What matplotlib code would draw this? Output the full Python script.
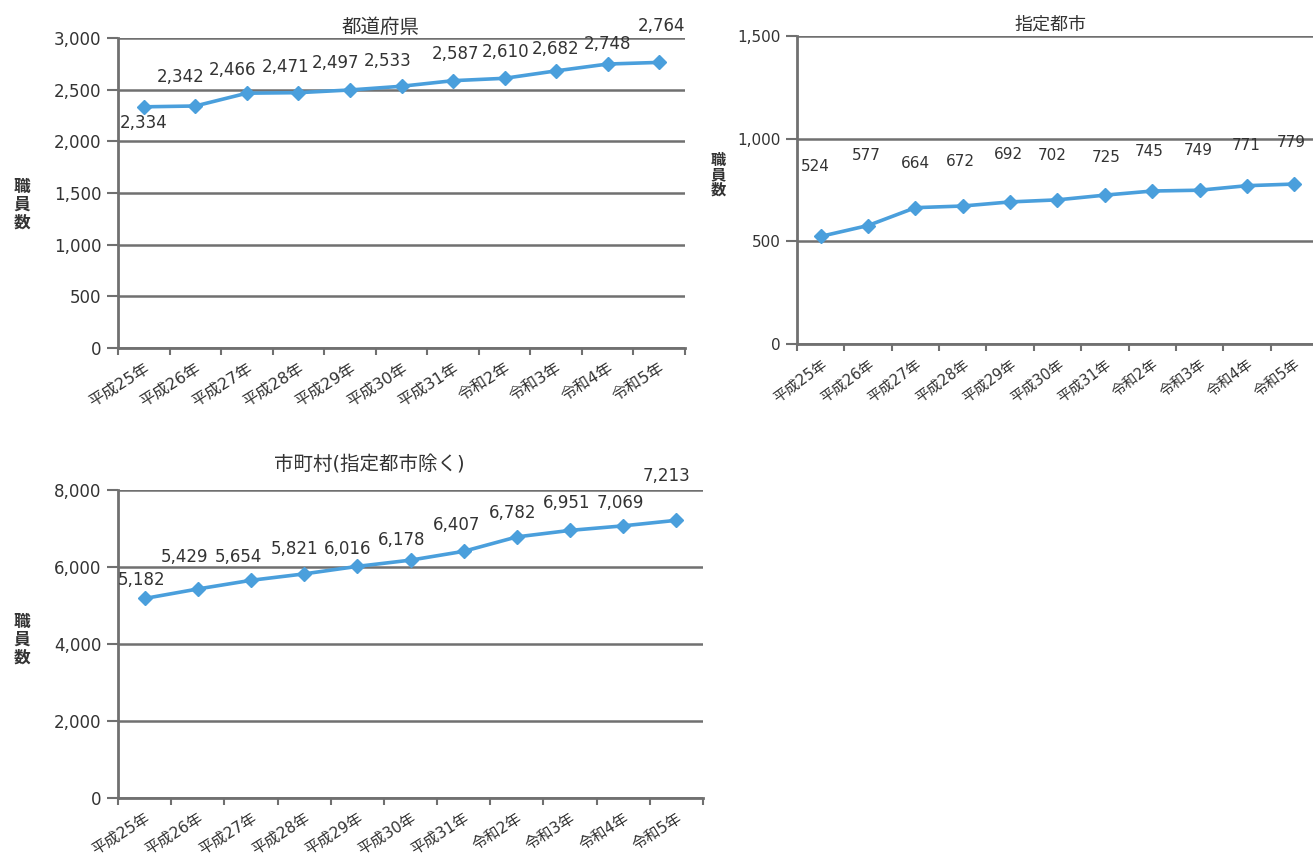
import matplotlib
matplotlib.use("Agg")
import matplotlib.pyplot as plt
import numpy as np

plt.rcParams['font.family'] = ['DejaVu Sans', 'Noto Sans CJK JP']

years = ['平成25年', '平成26年', '平成27年', '平成28年', '平成29年', '平成30年',
         '平成31年', '令和2年', '令和3年', '令和4年', '令和5年']

pref = [2334, 2342, 2466, 2471, 2497, 2533, 2587, 2610, 2682, 2748, 2764]
city = [524, 577, 664, 672, 692, 702, 725, 745, 749, 771, 779]
muni = [5182, 5429, 5654, 5821, 6016, 6178, 6407, 6782, 6951, 7069, 7213]

LINE = '#4a9fdc'
GRID = '#707070'
TXT = '#333333'

fig = plt.figure(figsize=(13.13, 8.63), dpi=100)


def draw(rect, vals, title, ymax, step, title_x, title_pad, lab_off, fs=12, xfs=12,
         tfs=14, rot=32, ylab_pos=None):
    ax = fig.add_axes(rect)
    x = np.arange(len(vals))
    ax.plot(x, vals, color=LINE, lw=2.6, marker='D', ms=7, zorder=3)
    ax.set_xlim(-0.5, len(vals) - 0.5)
    ax.set_ylim(0, ymax)
    ticks = np.arange(0, ymax + 1, step)
    ax.set_yticks(ticks)
    ax.set_yticklabels([f'{v:,}' for v in ticks], fontsize=fs, color=TXT)
    ax.yaxis.grid(True, color=GRID, lw=1.8)
    ax.set_axisbelow(True)
    ax.set_xticks(np.arange(-0.5, len(vals), 1.0))
    ax.set_xticklabels([])
    ax.set_xticks(x, minor=True)
    ax.set_xticklabels(years, minor=True, rotation=rot, ha='right',
                       rotation_mode='anchor', fontsize=xfs, color=TXT)
    ax.tick_params(axis='x', which='minor', length=0, pad=9)
    ax.tick_params(axis='x', which='major', length=5, width=1.5, color=GRID)
    ax.tick_params(axis='y', length=8, width=1.5, color=GRID, pad=4)
    for s in ['top', 'right']:
        ax.spines[s].set_visible(False)
    for s in ['left', 'bottom']:
        ax.spines[s].set_color(GRID)
        ax.spines[s].set_linewidth(2)
    ax.annotate(title, (title_x, 1.0), xycoords='axes fraction',
                xytext=(0, title_pad), textcoords='offset pixels',
                ha='center', va='bottom', fontsize=tfs, color=TXT)
    for i, v in enumerate(vals):
        dx, dy = lab_off[i]
        ax.annotate(f'{v:,}', (i, v), xytext=(dx, dy), textcoords='offset pixels',
                    ha='center', va='center', fontsize=fs, color=TXT)
    fig.text(ylab_pos[0], ylab_pos[1], '職\n員\n数', ha='center', va='center',
             fontsize=fs, color=TXT, linespacing=1.0, fontweight='bold')
    return ax


off_pref = [(0, -16), (-15, 29), (-14, 23), (-13, 26), (-14, 27), (-14, 25),
            (2, 27), (1, 26), (-1, 22), (0, 20), (2, 36)]
draw([118 / 1313, (863 - 348) / 863, 567 / 1313, 310 / 863], pref, '都道府県',
     3000, 500, 0.464, 1, off_pref, fs=12, xfs=11.5, tfs=14, rot=32,
     ylab_pos=(22 / 1313, (863 - 205) / 863))

off_city = [(-5, 70), (-2, 70), (0, 44), (-2, 45), (-2, 47), (-5, 44),
            (1, 38), (-3, 40), (-1, 40), (-1, 40), (-3, 42)]
draw([797 / 1313, (863 - 344) / 863, 521 / 1313, 308 / 863], city, '指定都市',
     1500, 500, 0.486, 2, off_city, fs=11, xfs=10.5, tfs=13, rot=36,
     ylab_pos=(718 / 1313, (863 - 175) / 863))

off_muni = [(-3, 18), (-13, 32), (-13, 23), (-10, 25), (-10, 17), (-9, 20),
            (-7, 26), (-4, 24), (-3, 27), (-3, 23), (-10, 44)]
draw([118 / 1313, (863 - 798) / 863, 585 / 1313, 308 / 863], muni, '市町村(指定都市除く)',
     8000, 2000, 0.43, 16, off_muni, fs=12, xfs=11, tfs=14, rot=32,
     ylab_pos=(22 / 1313, (863 - 640) / 863))

fig.savefig('out.png', dpi=100, facecolor='white')
